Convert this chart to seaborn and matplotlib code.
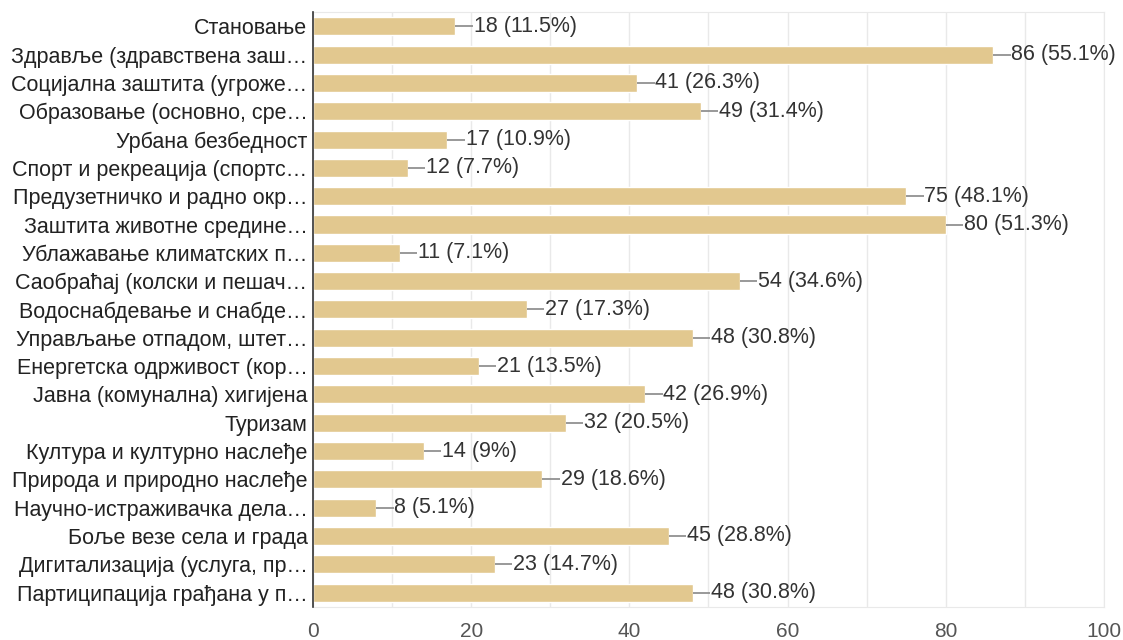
import pandas as pd
import seaborn as sns
import matplotlib.pyplot as plt

categories = [
    "Становање",
    "Здравље (здравствена заш…",
    "Социјална заштита (угроже…",
    "Образовање (основно, сре…",
    "Урбана безбедност",
    "Спорт и рекреација (спортс…",
    "Предузетничко и радно окр…",
    "Заштита животне средине…",
    "Ублажавање климатских п…",
    "Саобраћај (колски и пешач…",
    "Водоснабдевање и снабде…",
    "Управљање отпадом, штет…",
    "Енергетска одрживост (кор…",
    "Јавна (комунална) хигијена",
    "Туризам",
    "Култура и културно наслеђе",
    "Природа и природно наслеђе",
    "Научно-истраживачка дела…",
    "Боље везе села и града",
    "Дигитализација (услуга, пр…",
    "Партиципација грађана у п…",
]
counts = [18, 86, 41, 49, 17, 12, 75, 80, 11, 54, 27, 48, 21, 42, 32, 14, 29, 8, 45, 23, 48]
percents = ["11.5%", "55.1%", "26.3%", "31.4%", "10.9%", "7.7%", "48.1%", "51.3%", "7.1%",
            "34.6%", "17.3%", "30.8%", "13.5%", "26.9%", "20.5%", "9%", "18.6%", "5.1%",
            "28.8%", "14.7%", "30.8%"]

df = pd.DataFrame({"category": categories, "count": counts, "pct": percents})

sns.set_style("white")
plt.rcParams["font.family"] = ["Liberation Sans", "DejaVu Sans"]

fig = plt.figure(figsize=(11.23, 6.4), dpi=100)
ax = fig.add_axes([0.2787, 0.052, 0.7043, 0.929])

sns.barplot(data=df, x="count", y="category", orient="h", color="#E2C88F",
            saturation=1, width=0.64, ax=ax, zorder=3)

for i, row in df.iterrows():
    ax.hlines(i, row["count"], row["count"] + 2.2, color="#888888", lw=1.2, zorder=3)
    ax.text(row["count"] + 2.3, i, f"{row['count']} ({row['pct']})", va="center", ha="left",
            fontsize=15.5, color="#333333", zorder=4)

ax.set_xlim(0, 100)
ax.set_ylim(len(categories) - 0.5, -0.5)
ax.set_xticks(range(0, 101, 20))
ax.set_xticks(range(0, 101, 10), minor=True)
ax.grid(axis="x", which="both", color="#e9e9e9", lw=1, zorder=0)
ax.set_xlabel("")
ax.set_ylabel("")
ax.tick_params(axis="x", which="both", length=0, pad=11, labelsize=15, labelcolor="#555555")
ax.tick_params(axis="y", length=0, pad=4, labelsize=15.5, labelcolor="#222222")

for side in ["top", "right", "bottom"]:
    ax.spines[side].set_color("#e9e9e9")
ax.spines["left"].set_color("#333333")
ax.spines["left"].set_linewidth(1.2)
ax.spines["left"].set_zorder(5)

fig.savefig("out.png", dpi=100)
